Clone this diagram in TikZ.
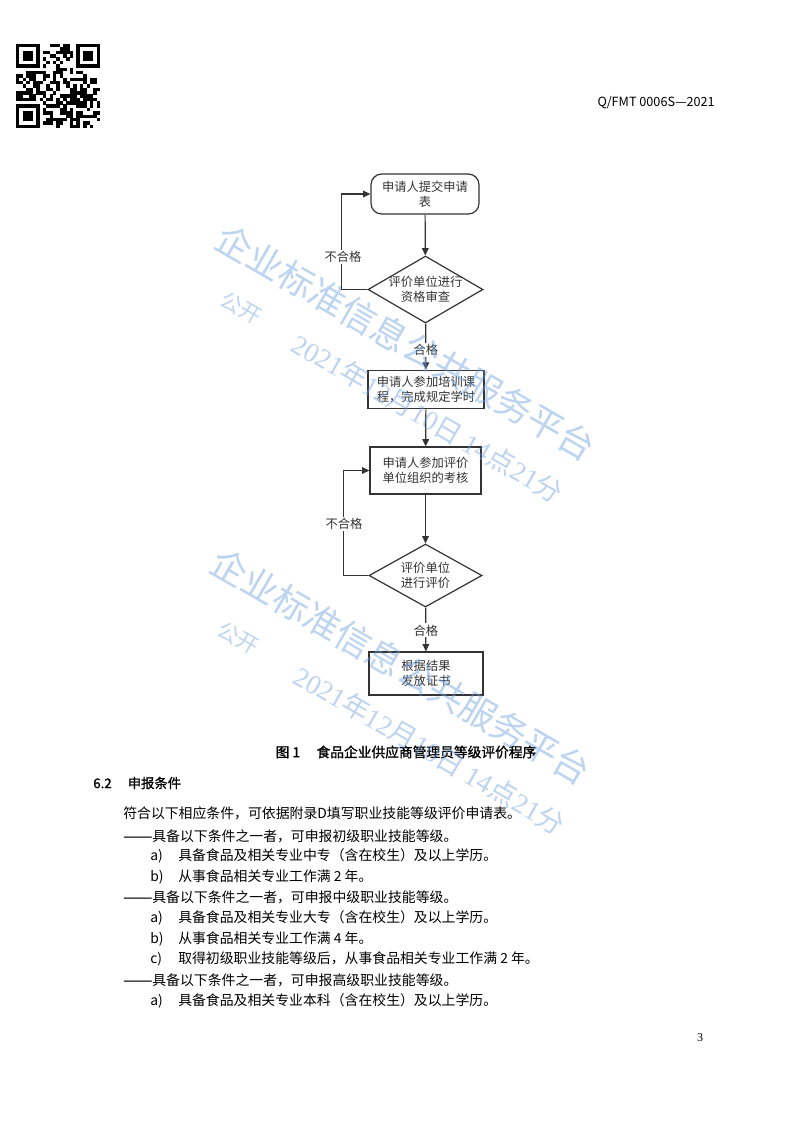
\documentclass[tikz,border=0pt]{standalone}
\usepackage{fontspec}
\usepackage{graphicx}
\setmainfont{Liberation Serif}
\newfontfamily\cjk{Noto Sans CJK SC}
\newfontfamily\cjkhei[FakeBold=1.2]{Noto Sans CJK SC}
\usetikzlibrary{shapes.geometric,arrows.meta}

\definecolor{flowgray}{HTML}{333333}
\definecolor{wmblue}{RGB}{110,160,225}

\tikzset{
  stepbox/.style={draw=flowgray, line width=0.9pt, fill=white, align=center,
    inner sep=1pt, text=flowgray, font=\cjk\fontsize{9.2}{11.4}\selectfont},
  decide/.style={stepbox, diamond, inner sep=0pt},
  steptext/.style={align=center, inner sep=0pt, text=flowgray,
    font=\cjk\fontsize{9.2}{11.4}\selectfont},
  flowline/.style={draw=flowgray, line width=0.9pt, -{Triangle[length=5.5pt,width=5pt]}},
  flowlabel/.style={fill=white, inner sep=1pt, text=flowgray,
    font=\cjk\fontsize{9.2}{11}\selectfont},
  bodytext/.style={anchor=west, inner sep=0pt, font=\cjk\fontsize{10.4}{12}\selectfont},
  watermark/.style={text=wmblue, opacity=0.45, rotate=-30, inner sep=0pt}
}

\newcommand{\qrmod}{3.36}
% one finder square of the code, top left corner at #1,#2
\newcommand{\qrfinder}[2]{%
  \fill[black] (#1,#2) rectangle ++(7*\qrmod,7*\qrmod);
  \fill[white] (#1+\qrmod,#2+\qrmod) rectangle ++(5*\qrmod,5*\qrmod);
  \fill[black] (#1+2*\qrmod,#2+2*\qrmod) rectangle ++(3*\qrmod,3*\qrmod);}
\newcommand{\listdash}{\scalebox{1.25}[1]{\cjkhei ——}}

\begin{document}
\begin{tikzpicture}[x=0.75pt, y=-0.75pt]
  \fill[white] (0,0) rectangle (793,1122);
  \useasboundingbox (0,0) rectangle (793,1122);

  % code in the top left corner
  \pgfmathsetseed{4711}
  \foreach \i in {0,...,24}{
    \foreach \j in {0,...,24}{
      \pgfmathrandominteger{\qbit}{0}{1}
      \pgfmathtruncatemacro{\inzone}{((\i<8) && (\j<8)) || ((\i>16) && (\j<8)) || ((\i<8) && (\j>16))}
      \ifnum\inzone=0 \ifnum\qbit=1
        \fill[black] (16+\i*\qrmod,44+\j*\qrmod) rectangle ++(\qrmod+0.1,\qrmod+0.1);
      \fi\fi
    }
  }
  \qrfinder{16}{44}
  \qrfinder{16+18*\qrmod}{44}
  \qrfinder{16}{44+18*\qrmod}

  \node[anchor=east, inner sep=0pt, font=\cjk\fontsize{9.5}{11}\selectfont] (docno) at (715,103) {Q/FMT 0006S—2021};

  % flowchart
  \node[stepbox, rounded corners=8pt, minimum width=81pt, minimum height=30pt] (apply) at (425,194) {申请人提交申请\\表};
  \node[decide, minimum width=86.25pt, minimum height=50.25pt] (check) at (425.5,289.5) {};
  \node[steptext] (checktext) at (check.center) {评价单位进行\\资格审查};
  \node[stepbox, line width=1.3pt, minimum width=87pt, minimum height=28.5pt] (train) at (426,389.5) {申请人参加培训课\\程，完成规定学时};
  \node[stepbox, minimum width=83.25pt, minimum height=35.25pt] (exam) at (425.5,470.5) {申请人参加评价\\单位组织的考核};
  \node[decide, minimum width=84.75pt, minimum height=47.25pt] (judge) at (425.5,575.5) {};
  \node[steptext] (judgetext) at (judge.center) {评价单位\\进行评价};
  \node[stepbox, minimum width=85.5pt, minimum height=32.25pt] (cert) at (426,673.5) {根据结果\\发放证书};

  \draw[flowline] (apply) -- (check);
  \draw[flowline] (check) -- (train) node[flowlabel, pos=0.58] (pass1) {合格};
  \draw[flowline] (train) -- (exam);
  \draw[flowline] (exam) -- (judge);
  \draw[flowline] (judge) -- (cert) node[flowlabel, pos=0.52] (pass2) {合格};

  \draw[flowline] (check.west) -- ++(-26,0) |- (apply.west);
  \node[flowlabel] (fail1) at (343,257) {不合格};
  \draw[flowline] (judge.west) -- ++(-25,0) |- (exam.west);
  \node[flowlabel] (fail2) at (344,524) {不合格};

  \node[font=\cjkhei\fontsize{10.3}{12}\selectfont] (caption) at (406,752) {图 1\hspace{1.2em}食品企业供应商管理员等级评价程序};

  % clause text
  \node[anchor=west, inner sep=0pt, font=\cjkhei\fontsize{10}{12}\selectfont] (clause) at (93,783) {6.2\hspace{1.2em}申报条件};
  \node[bodytext] (intro) at (123,813) {符合以下相应条件，可依据附录D填写职业技能等级评价申请表。};
  \node[bodytext] (low) at (123,836) {\listdash 具备以下条件之一者，可申报初级职业技能等级。};
  \node[bodytext] (lowa) at (150,856) {\makebox[21pt][l]{a)}具备食品及相关专业中专（含在校生）及以上学历。};
  \node[bodytext] (lowb) at (150,877) {\makebox[21pt][l]{b)}从事食品相关专业工作满 2 年。};
  \node[bodytext] (mid) at (123,897) {\listdash 具备以下条件之一者，可申报中级职业技能等级。};
  \node[bodytext] (mida) at (150,918) {\makebox[21pt][l]{a)}具备食品及相关专业大专（含在校生）及以上学历。};
  \node[bodytext] (midb) at (150,939) {\makebox[21pt][l]{b)}从事食品相关专业工作满 4 年。};
  \node[bodytext] (midc) at (150,959) {\makebox[21pt][l]{c)}取得初级职业技能等级后，从事食品相关专业工作满 2 年。};
  \node[bodytext] (high) at (123,980) {\listdash 具备以下条件之一者，可申报高级职业技能等级。};
  \node[bodytext] (higha) at (150,1001) {\makebox[21pt][l]{a)}具备食品及相关专业本科（含在校生）及以上学历。};

  \node[font=\fontsize{9}{11}\selectfont, inner sep=0pt] (pageno) at (700,1038) {3};

  % watermark, twice
  \node[watermark, font=\cjk\fontsize{27}{30}\selectfont] (wmtop) at (406,343) {企业标准信息公共服务平台};
  \node[watermark, font=\cjk\fontsize{16}{18}\selectfont] (wmtopa) at (241,308) {公开};
  \node[watermark, font=\cjk\fontsize{20.5}{23}\selectfont] (wmtopb) at (428,418) {{\rmfamily 2021}年{\rmfamily 12}月{\rmfamily 10}日 {\rmfamily 14}点{\rmfamily 21}分};
  \node[watermark, font=\cjk\fontsize{27}{30}\selectfont] (wmlow) at (401,667) {企业标准信息公共服务平台};
  \node[watermark, font=\cjk\fontsize{16}{18}\selectfont] (wmlowa) at (238,638) {公开};
  \node[watermark, font=\cjk\fontsize{20.5}{23}\selectfont] (wmlowb) at (430,750) {{\rmfamily 2021}年{\rmfamily 12}月{\rmfamily 10}日 {\rmfamily 14}点{\rmfamily 21}分};
\end{tikzpicture}
\end{document}
